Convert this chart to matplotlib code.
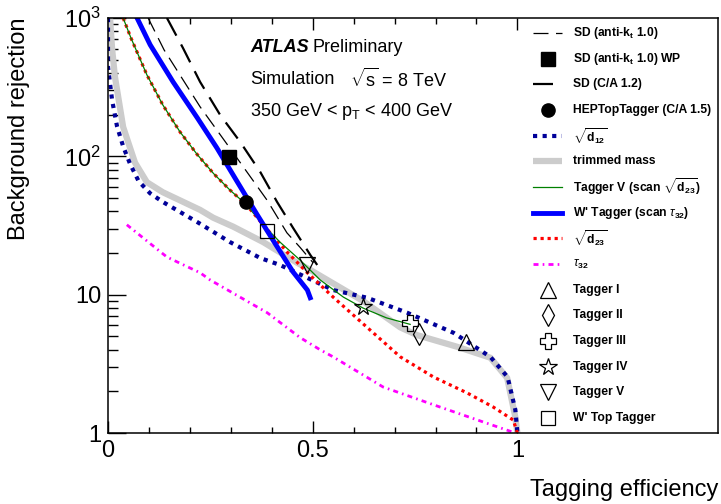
import numpy as np
import matplotlib
matplotlib.use('Agg')
import matplotlib.pyplot as plt
from matplotlib.lines import Line2D

plt.rcParams['font.family'] = ['Liberation Sans', 'DejaVu Sans']
plt.rcParams['mathtext.fontset'] = 'custom'
plt.rcParams['mathtext.rm'] = 'Liberation Sans'
plt.rcParams['mathtext.it'] = 'Liberation Sans:italic'
plt.rcParams['mathtext.bf'] = 'Liberation Sans:bold'

# curves (signal efficiency, background rejection)
trim_eff = [0.005, 0.01, 0.017, 0.037, 0.054, 0.066, 0.095, 0.134, 0.225, 0.257, 0.306, 0.379, 0.462, 0.494, 0.623, 0.714, 0.755, 0.853, 0.934, 0.975, 0.995, 1.0]
trim_rej = [1000, 600, 375, 163, 115, 90, 65, 55, 41, 36, 31, 24, 17, 15.1, 9.0, 5.8, 5.1, 4.2, 3.5, 2.5, 1.3, 1.0]

d12_eff = [0.0, 0.0, 0.01, 0.022, 0.037, 0.054, 0.075, 0.103, 0.134, 0.218, 0.298, 0.372, 0.42, 0.55, 0.633, 0.731, 0.844, 0.934, 0.976, 0.995, 1.0]
d12_rej = [1000, 443, 255, 165, 118, 88, 66, 54, 46.8, 33.5, 24, 18.4, 16.4, 10.8, 9.5, 7.4, 5.3, 3.55, 2.54, 1.47, 1.0]

d23_eff = [0.037, 0.056, 0.095, 0.134, 0.176, 0.218, 0.258, 0.298, 0.337, 0.379, 0.437, 0.487, 0.55, 0.633, 0.714, 0.795, 0.877, 0.941, 0.99, 1.0]
d23_rej = [1000, 718, 388, 235, 150, 103, 75, 57, 45, 32, 20.4, 14.4, 9.6, 5.8, 3.55, 2.54, 1.95, 1.54, 1.24, 1.0]

tv_eff = [0.037, 0.056, 0.095, 0.134, 0.176, 0.218, 0.258, 0.298, 0.337, 0.379, 0.42, 0.469, 0.518, 0.575, 0.623, 0.68, 0.738]
tv_rej = [1000, 718, 388, 235, 150, 103, 75, 57, 45, 32, 24, 17.8, 12.8, 9.6, 8.0, 6.8, 6.1]

tau32_eff = [0.046, 0.144, 0.225, 0.249, 0.389, 0.469, 0.518, 0.55, 0.672, 0.795, 0.917, 0.995]
tau32_rej = [32, 18.7, 14.4, 12.8, 7.4, 4.9, 4.0, 3.55, 2.15, 1.6, 1.2, 1.0]

wp_eff = [0.071, 0.103, 0.159, 0.218, 0.266, 0.315, 0.364, 0.406, 0.452, 0.487, 0.494]
wp_rej = [1000, 640, 345, 190, 115, 66, 38, 24, 14.6, 10.8, 9.5]

sdkt_eff = [0.098, 0.137, 0.225, 0.306, 0.389, 0.437, 0.469, 0.501]
sdkt_rej = [1000, 588, 228, 106, 48, 28, 22, 17]

sdca_eff = [0.144, 0.183, 0.225, 0.274, 0.323, 0.372, 0.413, 0.452, 0.494, 0.511]
sdca_rej = [1000, 608, 345, 199, 127, 77, 46.8, 30.4, 19.4, 16.4]

# single working points
sdwp = (0.296, 99)
htt = (0.337, 46.8)
wtop = (0.389, 28.9)
tagger_eff = [0.875, 0.760, 0.738, 0.624, 0.487]
tagger_rej = [4.55, 5.2, 6.2, 8.2, 16.4]
tagger_names = ['Tagger I', 'Tagger II', 'Tagger III', 'Tagger IV', 'Tagger V']
tagger_marks = ['^', 'd', 'P', '*', 'v']
tagger_sizes = [11, 11, 11, 13, 11]

W, H = 721, 504
fig = plt.figure(figsize=(W / 100, H / 100), dpi=100)
ax = fig.add_axes([108 / W, 1 - 433 / H, 610 / W, 415 / H])

sty = {
    'trim': dict(color='#cccccc', lw=4.5, solid_capstyle='butt'),
    'd12': dict(color='#000099', lw=3.0, ls=(0, (1, 1.3))),
    'tau': dict(color='#ff00ff', lw=2.0, ls=(0, (1.8, 1.5, 0.6, 1.5))),
    'd23': dict(color='#ff0000', lw=2.3, ls=(0, (1, 1.2))),
    'tv': dict(color='#008000', lw=0.9),
    'wp': dict(color='#0000ff', lw=3.5),
    'sdkt': dict(color='black', lw=0.9, ls=(0, (12, 6))),
    'sdca': dict(color='black', lw=1.6, ls=(0, (9, 4.5))),
}

ax.plot(trim_eff, trim_rej, **sty['trim'])
ax.plot(d12_eff, d12_rej, **sty['d12'])
ax.plot(tau32_eff, tau32_rej, **sty['tau'])
ax.plot(d23_eff, d23_rej, **sty['d23'])
ax.plot(tv_eff, tv_rej, **sty['tv'])
ax.plot(wp_eff, wp_rej, **sty['wp'])
ax.plot(sdkt_eff, sdkt_rej, **sty['sdkt'])
ax.plot(sdca_eff, sdca_rej, **sty['sdca'])

ax.plot(*sdwp, 's', color='black', ms=9.5)
ax.plot(*htt, 'o', color='black', ms=9.5)
ax.plot(*wtop, 's', mfc='none', mec='black', mew=0.9, ms=9.5)
for e, r, m, s in zip(tagger_eff, tagger_rej, tagger_marks, tagger_sizes):
    ax.plot(e, r, m, mfc='none', mec='black', mew=0.9, ms=s)

ax.set_yscale('log')
ax.set_xlim(0, 1.49)
ax.set_ylim(1, 1000)
ax.set_xticks([0, 0.5, 1])
ax.set_xticklabels(['0', '0.5', '1'])
ax.set_xticks(np.arange(0.1, 1.0, 0.1), minor=True)
ax.set_yticks([1, 10, 100, 1000])
ax.set_yticklabels(['1', '10', '$10^2$', '$10^3$'])
ax.tick_params(which='both', direction='in', top=True, right=False, width=1, labelsize=17)
ax.tick_params(axis='x', which='major', length=8.5, pad=5)
ax.tick_params(axis='x', which='minor', length=4.5)
ax.tick_params(axis='y', which='major', length=13, pad=5)
ax.tick_params(axis='y', which='minor', length=7)
for sp in ax.spines.values():
    sp.set_linewidth(1.1)

ax.set_ylabel('Background rejection', fontsize=17, loc='top')
ax.yaxis.set_label_coords(-0.128, 1.0)
ax.set_xlabel('Tagging efficiency', fontsize=17, loc='right')
ax.xaxis.set_label_coords(1.0, -0.11)

def fx(px):
    return px / W

def fy(py):
    return 1 - py / H

fig.text(fx(250), fy(47), 'ATLAS', fontsize=13, fontweight='bold', fontstyle='italic', va='center')
fig.text(fx(312), fy(47), 'Preliminary', fontsize=13, va='center')
fig.text(fx(250), fy(79), 'Simulation', fontsize=13, va='center')
fig.text(fx(350), fy(79), r'$\sqrt{\mathrm{s}}$ = 8 TeV', fontsize=13, va='center')
fig.text(fx(250), fy(111), r'350 GeV < p$_\mathrm{T}$ < 400 GeV', fontsize=13, va='center')

# legend drawn by hand so the rows are evenly spaced
leg = [
    (r'SD (anti-k$_\mathbf{t}$ 1.0)', 'line', sty['sdkt']),
    (r'SD (anti-k$_\mathbf{t}$ 1.0) WP', 'mark', dict(marker='s', color='black', ms=9.5)),
    ('SD (C/A 1.2)', 'line', sty['sdca']),
    ('HEPTopTagger (C/A 1.5)', 'mark', dict(marker='o', color='black', ms=9.5)),
    (r'$\sqrt{\mathbf{d}_{\mathbf{12}}}$', 'line', sty['d12']),
    ('trimmed mass', 'line', sty['trim']),
    (r'Tagger V (scan $\sqrt{\mathbf{d}_{\mathbf{23}}}$)', 'line', sty['tv']),
    (r"W' Tagger (scan $\tau_{\mathbf{32}}$)", 'line', sty['wp']),
    (r'$\sqrt{\mathbf{d}_{\mathbf{23}}}$', 'line', sty['d23']),
    (r'$\tau_{\mathbf{32}}$', 'line', sty['tau']),
]
for n, m, s in zip(tagger_names, tagger_marks, tagger_sizes):
    leg.append((n, 'mark', dict(marker=m, mfc='none', mec='black', mew=0.9, ms=s)))
leg.append(("W' Top Tagger", 'mark', dict(marker='s', mfc='none', mec='black', mew=0.9, ms=9.5)))

for i, (lab, kind, st) in enumerate(leg):
    y = fy(33 + i * 25.67)
    if kind == 'line':
        fig.add_artist(Line2D([fx(533), fx(562)], [y, y], transform=fig.transFigure, **st))
    else:
        fig.add_artist(Line2D([fx(548)], [y], transform=fig.transFigure, ls='none', **st))
    fig.text(fx(573), y, lab, fontsize=8.7, fontweight='bold', va='center')

fig.savefig('out.png', dpi=100)
